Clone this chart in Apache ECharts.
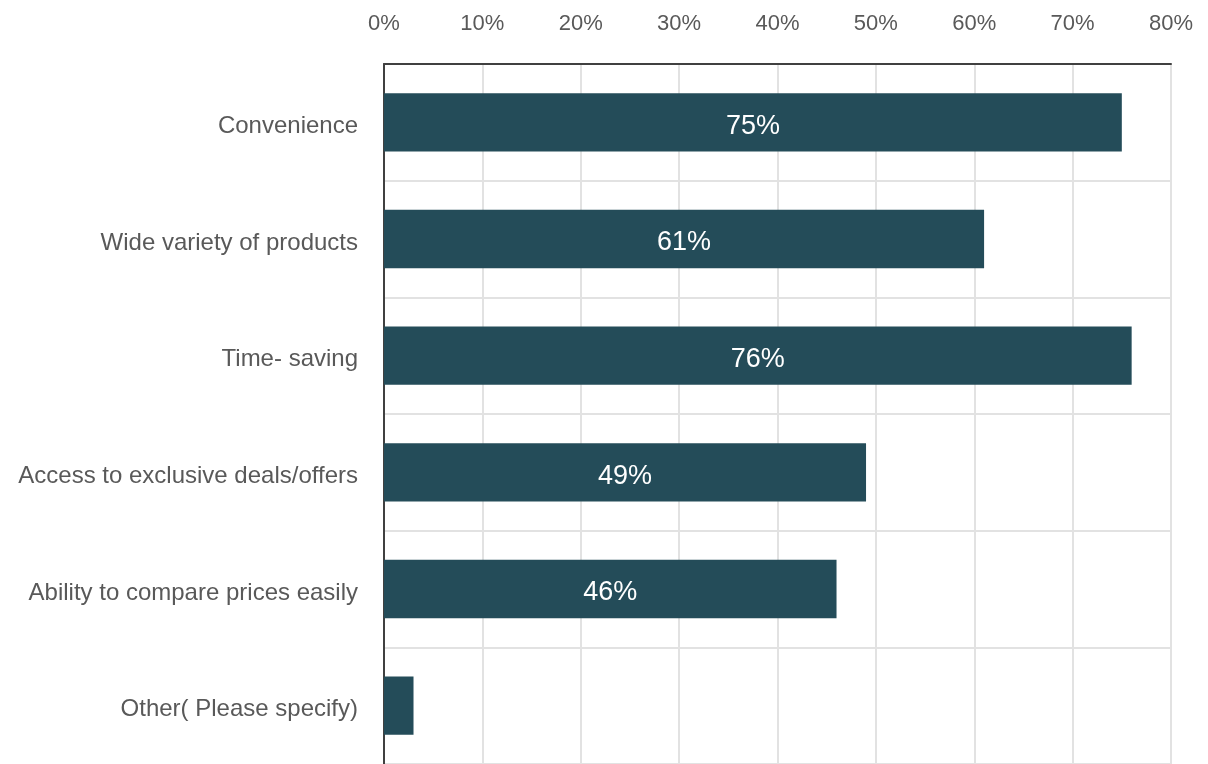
<!DOCTYPE html>
<html>
<head>
<meta charset="utf-8">
<title>Reasons for shopping online</title>
<script src="https://cdn.jsdelivr.net/npm/echarts@6/dist/echarts.min.js"></script>
<style>
  html, body { margin: 0; padding: 0; background: #ffffff; }
  #chart { width: 1208px; height: 764px; }
</style>
</head>
<body>
<div id="chart"></div>
<script>
// Survey answers, top to bottom
const categories = [
  'Convenience',
  'Wide variety of products',
  'Time- saving',
  'Access to exclusive deals/offers',
  'Ability to compare prices easily',
  'Other( Please specify)'
];
// Share of respondents, percent
const shares = [75, 61, 76, 49, 46, 3];
// Percent axis
const axisMin = 0;
const axisMax = 80;
const axisStep = 10;

const textGrey = '#595959';
const barColor = '#244c59';

const chart = echarts.init(document.getElementById('chart'), null, { renderer: 'canvas' });

chart.setOption({
  backgroundColor: '#ffffff',
  animation: false,
  grid: { left: 384, right: 37, top: 64, bottom: -4, containLabel: false },
  xAxis: {
    type: 'value',
    position: 'top',
    min: axisMin,
    max: axisMax,
    interval: axisStep,
    axisLine: { show: true, lineStyle: { color: '#404040', width: 2 } },
    axisTick: { show: false },
    axisLabel: {
      formatter: '{value}%',
      color: textGrey,
      fontFamily: 'Liberation Sans, Arial, sans-serif',
      fontSize: 22,
      margin: 29
    },
    splitLine: { show: true, lineStyle: { color: '#e2e2e2', width: 2 } }
  },
  yAxis: {
    type: 'category',
    inverse: true,
    data: categories,
    axisLine: { show: true, lineStyle: { color: '#404040', width: 2 } },
    axisTick: { show: false },
    axisLabel: {
      margin: 26,
      // push the category names a little below the band centre
      formatter: v => '{c|' + v + '}',
      rich: {
        c: {
          color: textGrey,
          fontFamily: 'Liberation Sans, Arial, sans-serif',
          fontSize: 24,
          padding: [8, 0, 0, 0]
        }
      }
    },
    splitLine: { show: true, lineStyle: { color: '#e2e2e2', width: 2 } }
  },
  series: [{
    type: 'bar',
    data: shares,
    barCategoryGap: '50%',
    itemStyle: { color: barColor },
    label: {
      show: true,
      position: 'inside',
      offset: [0, 4],
      color: '#ffffff',
      fontFamily: 'Liberation Sans, Arial, sans-serif',
      fontSize: 27,
      formatter: p => (p.value >= 10 ? p.value + '%' : '')
    }
  }]
});
</script>
</body>
</html>
